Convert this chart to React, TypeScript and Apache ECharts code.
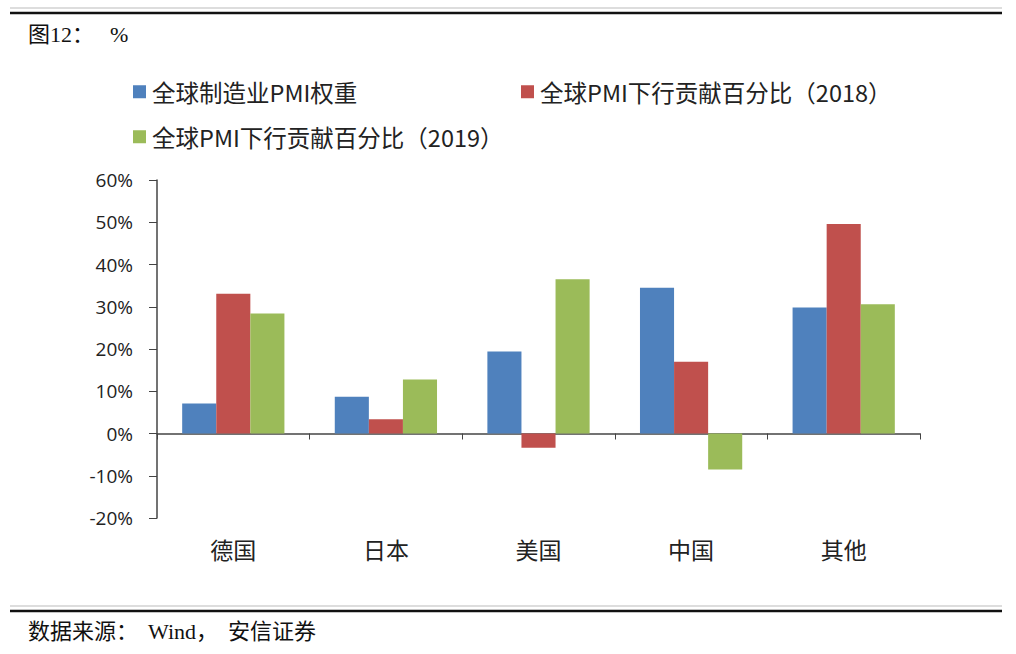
import { useEffect, useRef } from 'react';
import * as echarts from 'echarts';

const categories = ['德国', '日本', '美国', '中国', '其他'];
const seriesNames = ['全球制造业PMI权重', '全球PMI下行贡献百分比（2018）', '全球PMI下行贡献百分比（2019）'];
const weight = [7.1, 8.7, 19.4, 34.5, 29.8];
const contrib2018 = [33.1, 3.4, -3.4, 17.0, 49.6];
const contrib2019 = [28.4, 12.8, 36.5, -8.5, 30.6];
const colors = ['#4F81BD', '#C0504D', '#9BBB59'];

const cjk = '"Noto Sans CJK SC", "Noto Sans", sans-serif';
const serif = '"Liberation Serif", "Noto Sans CJK SC", serif';

const App = () => {
  const chartRef = useRef<HTMLDivElement>(null);

  useEffect(() => {
    if (!chartRef.current) return;
    const chart = echarts.init(chartRef.current, null, { renderer: 'svg' });

    const legendStyle = (name: string, left: number, top: number) => ({
      data: [name],
      left,
      top,
      icon: 'rect',
      itemWidth: 13,
      itemHeight: 13,
      itemGap: 0,
      selectedMode: false,
      textStyle: { fontSize: 23.5, color: '#222', fontFamily: cjk, padding: [0, 0, 0, 1] },
    });

    const txt = (text: string, left: number, top: number) => ({
      type: 'text',
      left,
      top,
      style: { text, fontSize: 22, fontFamily: serif, fill: '#111' },
    });

    chart.setOption({
      animation: false,
      backgroundColor: '#fff',
      color: colors,
      legend: [
        legendStyle(seriesNames[0], 128, 75),
        legendStyle(seriesNames[1], 516, 75),
        legendStyle(seriesNames[2], 128, 120),
      ],
      grid: { left: 157, right: 96, top: 180, bottom: 136 },
      xAxis: [
        {
          type: 'category',
          data: categories,
          position: 'bottom',
          axisLine: { onZero: true, lineStyle: { color: '#444', width: 1.5 } },
          axisTick: { show: true, length: 6, lineStyle: { color: '#444' } },
          axisLabel: { show: false },
        },
        {
          type: 'category',
          data: categories,
          position: 'bottom',
          axisLine: { show: false, onZero: false },
          axisTick: { show: false },
          axisLabel: { fontSize: 23, color: '#222', fontFamily: cjk, margin: 19 },
        },
      ],
      yAxis: {
        type: 'value',
        min: -20,
        max: 60,
        interval: 10,
        splitLine: { show: false },
        axisLine: { show: true, lineStyle: { color: '#444', width: 1.5 } },
        axisTick: { show: true, length: 8, lineStyle: { color: '#444' } },
        axisLabel: {
          formatter: (v: number) => `${v}%`,
          fontSize: 19,
          color: '#222',
          fontFamily: '"Open Sans", "Liberation Sans", sans-serif',
          margin: 24,
        },
      },
      series: [weight, contrib2018, contrib2019].map((data, i) => ({
        name: seriesNames[i],
        type: 'bar',
        data,
        barGap: '0%',
        barCategoryGap: '33%',
      })),
      graphic: [
        { type: 'line', shape: { x1: 10, y1: 8, x2: 1002, y2: 8 }, style: { stroke: '#bbb', lineWidth: 1 } },
        { type: 'line', shape: { x1: 10, y1: 13, x2: 1002, y2: 13 }, style: { stroke: '#111', lineWidth: 2.5 } },
        txt('图12：', 28, 23),
        txt('%', 110, 23),
        { type: 'line', shape: { x1: 10, y1: 606, x2: 1002, y2: 606 }, style: { stroke: '#bbb', lineWidth: 1 } },
        { type: 'line', shape: { x1: 10, y1: 611, x2: 1002, y2: 611 }, style: { stroke: '#111', lineWidth: 2.5 } },
        txt('数据来源：', 28, 620),
        txt('Wind，', 148, 620),
        txt('安信证券', 228, 620),
      ],
    });

    return () => {
      chart.dispose();
    };
  }, []);

  return (
    <div
      ref={chartRef}
      style={{ position: 'fixed', left: 0, top: 0, width: '1016px', height: '654px' }}
    />
  );
};

export default App;
